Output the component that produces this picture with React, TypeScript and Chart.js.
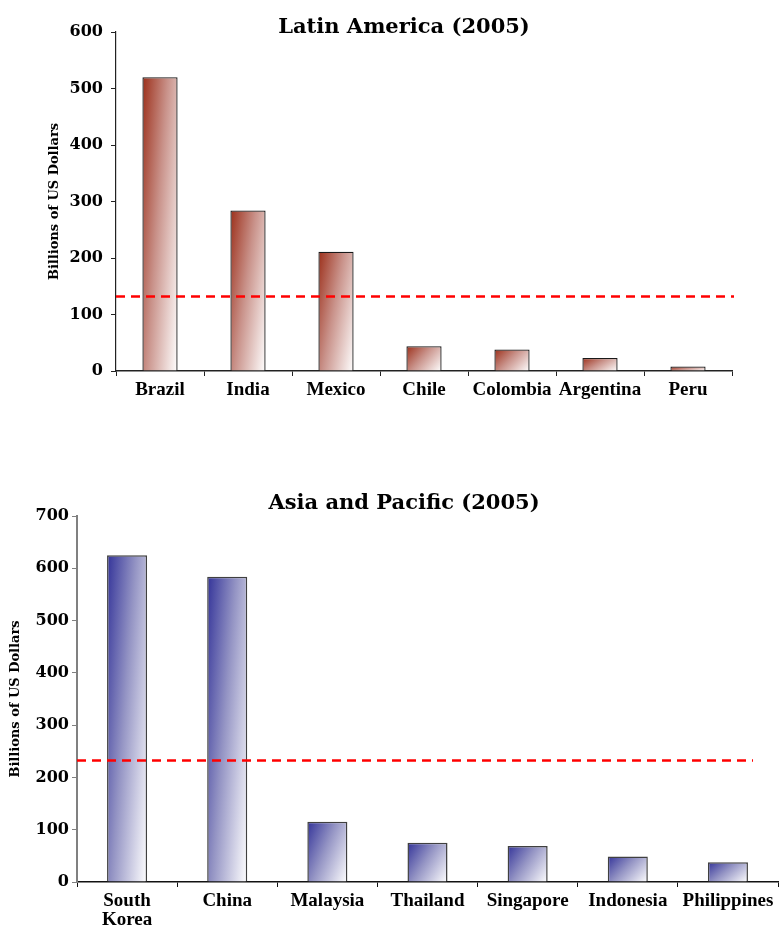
import React, { useEffect, useRef } from "react";
import { Chart, registerables } from "chart.js";

Chart.register(...registerables);

// ---- Latin America (2005) ----
const latinTitle = "Latin America (2005)";
const latinCountries = ["Brazil", "India", "Mexico", "Chile", "Colombia", "Argentina", "Peru"];
const latinValues = [520, 284, 211, 44, 38, 23, 8];
const latinReference = 133;
const latinMax = 600;

// ---- Asia and Pacific (2005) ----
const asiaTitle = "Asia and Pacific (2005)";
const asiaCountries = [["South", "Korea"], "China", "Malaysia", "Thailand", "Singapore", "Indonesia", "Philippines"];
const asiaValues = [625, 584, 115, 75, 69, 49, 38];
const asiaReference = 233;
const asiaMax = 700;

const yAxisTitle = "Billions of US Dollars";
const tickStep = 100;

const SERIF_NUM = "'DejaVu Serif', Georgia, serif";
const SERIF_TXT = "'Liberation Serif', 'Times New Roman', serif";

// Diagonal fill: dark at the top-left corner of each bar, fading to white at the bottom-right.
function barGradient(dark: string, mid: string, wx: number, wy: number) {
  return (context: any) => {
    const chart = context.chart;
    const { chartArea, scales } = chart;
    if (!chartArea || context.type !== "data") return dark;
    const xs = scales.x;
    const ys = scales.y;
    const n = chart.data.labels.length;
    const cw = xs.width / n;
    const bw = cw * 0.4;
    const cx = xs.getPixelForValue(context.dataIndex);
    const x0 = cx - bw / 2;
    const y0 = ys.getPixelForValue(context.raw as number);
    const h = Math.max(1, ys.getPixelForValue(0) - y0);
    const gx = wx / bw;
    const gy = wy / h;
    const m = gx * gx + gy * gy;
    const g = chart.ctx.createLinearGradient(x0, y0, x0 + gx / m, y0 + gy / m);
    g.addColorStop(0, dark);
    g.addColorStop(0.45, mid);
    g.addColorStop(1, "#ffffff");
    return g;
  };
}

// Title text and the dashed reference level drawn on top of the bars.
const panelDecor = {
  id: "panelDecor",
  afterDatasetsDraw(chart: any, _args: any, opts: any) {
    const { ctx, chartArea, scales } = chart;
    const y = Math.round(scales.y.getPixelForValue(opts.refValue)) + 0.5;
    ctx.save();
    ctx.strokeStyle = "#ff0000";
    ctx.lineWidth = 2.5;
    ctx.setLineDash([9, 6]);
    ctx.beginPath();
    ctx.moveTo(chartArea.left, y);
    ctx.lineTo(chartArea.right - (opts.refInset || 0), y);
    ctx.stroke();
    ctx.restore();
  },
  afterDraw(chart: any, _args: any, opts: any) {
    const { ctx } = chart;
    ctx.save();
    ctx.fillStyle = "#000";
    ctx.font = `bold ${opts.titleSize}px ${SERIF_NUM}`;
    ctx.textAlign = "center";
    ctx.textBaseline = "alphabetic";
    ctx.fillText(opts.title, opts.titleX, opts.titleY);
    ctx.restore();
  },
};

type PanelProps = {
  top: number;
  height: number;
  labels: any[];
  values: number[];
  max: number;
  refValue: number;
  refInset: number;
  title: string;
  titleY: number;
  axisWidth: number;
  axisHeight: number;
  padTop: number;
  padRight: number;
  padBottom: number;
  yTitlePad: number;
  yTickPad: number;
  dark: string;
  mid: string;
  barBorder: string;
  barBorderWidth: number;
  yAxisColor: string;
  yAxisWidth: number;
  xAxisColor: string;
  xAxisWidth: number;
};

function Panel(p: PanelProps) {
  const ref = useRef<HTMLCanvasElement | null>(null);
  useEffect(() => {
    if (!ref.current) return;
    const chart = new Chart(ref.current, {
      type: "bar",
      data: {
        labels: p.labels,
        datasets: [
          {
            data: p.values,
            backgroundColor: barGradient(p.dark, p.mid, 0.62, 0.38),
            borderColor: p.barBorder,
            borderWidth: p.barBorderWidth,
            categoryPercentage: 1,
            barPercentage: 0.4,
          },
        ],
      },
      options: {
        responsive: false,
        animation: false,
        devicePixelRatio: 1,
        layout: { padding: { top: p.padTop, right: p.padRight, bottom: p.padBottom, left: 0 } },
        plugins: {
          legend: { display: false },
          tooltip: { enabled: false },
          title: { display: false },
          panelDecor: {
            title: p.title,
            titleX: 404,
            titleY: p.titleY,
            titleSize: 21,
            refValue: p.refValue,
            refInset: p.refInset,
          },
        } as any,
        scales: {
          x: {
            type: "category",
            offset: true,
            afterFit: (s: any) => {
              s.height = p.axisHeight;
            },
            grid: {
              display: true,
              offset: true,
              drawOnChartArea: false,
              drawTicks: true,
              tickLength: 5,
              color: p.xAxisColor,
              lineWidth: 1,
            },
            border: { display: true, color: p.xAxisColor, width: p.xAxisWidth },
            ticks: {
              color: "#000",
              padding: 4,
              autoSkip: false,
              maxRotation: 0,
              font: { family: SERIF_TXT, size: 19, weight: "bold", lineHeight: 1.02 },
            },
          },
          y: {
            type: "linear",
            min: 0,
            max: p.max,
            afterFit: (s: any) => {
              s.width = p.axisWidth;
            },
            grid: {
              display: true,
              drawOnChartArea: false,
              drawTicks: true,
              tickLength: 5,
              color: p.yAxisColor,
              lineWidth: 1,
            },
            border: { display: true, color: p.yAxisColor, width: p.yAxisWidth },
            ticks: {
              stepSize: tickStep,
              color: "#000",
              padding: p.yTickPad,
              font: { family: SERIF_NUM, size: 16, weight: "bold" },
            },
            title: {
              display: true,
              text: yAxisTitle,
              color: "#000",
              padding: { top: p.yTitlePad, bottom: 0 },
              font: { family: SERIF_NUM, size: 13, weight: "bold", lineHeight: 1.2 },
            },
          },
        },
      } as any,
      plugins: [panelDecor as any],
    });
    return () => chart.destroy();
  }, []);
  return (
    <canvas
      ref={ref}
      width={779}
      height={p.height}
      style={{ position: "absolute", left: 0, top: p.top, width: 779, height: p.height }}
    />
  );
}

export default function App() {
  return (
    <div style={{ position: "absolute", left: 0, top: 0, width: 779, height: 927, overflow: "hidden" }}>
      <Panel
        top={0}
        height={440}
        labels={latinCountries}
        values={latinValues}
        max={latinMax}
        refValue={latinReference}
        refInset={-2}
        title={latinTitle}
        titleY={33}
        axisWidth={116}
        axisHeight={40}
        padTop={32}
        padRight={47}
        padBottom={29}
        yTitlePad={47}
        yTickPad={8}
        dark="#9c2f1a"
        mid="#c9928a"
        barBorder="#1a1a1a"
        barBorderWidth={1.3}
        yAxisColor="#222222"
        yAxisWidth={1.2}
        xAxisColor="#222222"
        xAxisWidth={1.5}
      />
      <Panel
        top={470}
        height={457}
        labels={asiaCountries}
        values={asiaValues}
        max={asiaMax}
        refValue={asiaReference}
        refInset={25}
        title={asiaTitle}
        titleY={39}
        axisWidth={77}
        axisHeight={45}
        padTop={46}
        padRight={1}
        padBottom={0}
        yTitlePad={8}
        yTickPad={3}
        dark="#333399"
        mid="#9494c4"
        barBorder="#404040"
        barBorderWidth={1.5}
        yAxisColor="#808080"
        yAxisWidth={2}
        xAxisColor="#111111"
        xAxisWidth={1.5}
      />
    </div>
  );
}
